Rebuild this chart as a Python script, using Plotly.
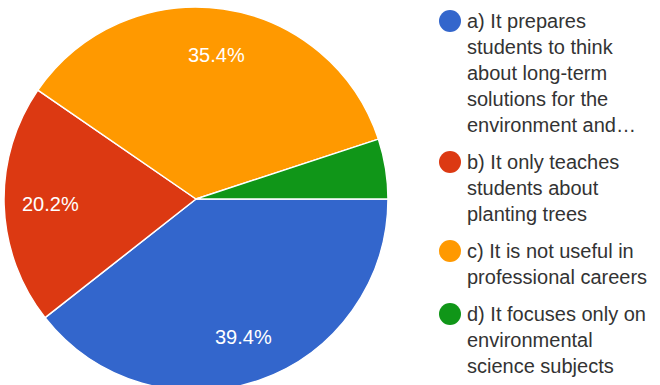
import math
import plotly.graph_objects as go

# Survey answers and response counts
options = [
    "a) It prepares students to think about long-term solutions for the environment and…",
    "b) It only teaches students about planting trees",
    "c) It is not useful in professional careers",
    "d) It focuses only on environmental science subjects",
]
counts = [39, 20, 35, 5]
colors = ["#3366cc", "#dc3912", "#ff9900", "#109618"]

# Wrapped legend lines for each option
legend_lines = [
    ["a) It prepares", "students to think", "about long-term", "solutions for the", "environment and…"],
    ["b) It only teaches", "students about", "planting trees"],
    ["c) It is not useful in", "professional careers"],
    ["d) It focuses only on", "environmental", "science subjects"],
]

W, H = 660, 392
FONT = "Arial, Liberation Sans, sans-serif"

cx, cy, r = 196, 199, 192  # pie centre and radius in pixels
start_deg = 90             # first slice starts at 3 o'clock, going clockwise

fig = go.Figure(
    go.Pie(
        labels=options,
        values=counts,
        sort=False,
        direction="clockwise",
        rotation=start_deg,
        marker=dict(colors=colors, line=dict(color="white", width=1.5)),
        textinfo="none",
        showlegend=False,
        hoverinfo="label+percent",
        domain=dict(x=[(cx - r) / W, (cx + r) / W], y=[(H - cy - r) / H, (H - cy + r) / H]),
    )
)

annotations, shapes = [], []

# Percentage labels placed along each slice's bisector; tiny slices stay unlabelled
total = sum(counts)
acc = 0
for c in counts:
    frac = c / total
    mid = math.radians(start_deg + 360 * (acc + frac / 2))
    acc += frac
    if frac < 0.06:
        continue
    px = cx + 0.76 * r * math.sin(mid)
    py = cy - 0.76 * r * math.cos(mid)
    annotations.append(dict(
        text=f"{frac * 100:.1f}%", xref="paper", yref="paper",
        x=px / W, y=(H - py) / H, xanchor="center", yanchor="middle",
        showarrow=False, font=dict(family=FONT, size=20, color="white"),
    ))

# Custom legend: circle markers with wrapped labels
line_h, item_gap = 26, 37
y = 21
for col, lines in zip(colors, legend_lines):
    mr = 11
    shapes.append(dict(
        type="circle", xref="paper", yref="paper",
        x0=(450 - mr) / W, x1=(450 + mr) / W,
        y0=(H - y - mr) / H, y1=(H - y + mr) / H,
        fillcolor=col, line=dict(width=0),
    ))
    for i, txt in enumerate(lines):
        ly = y + i * line_h
        annotations.append(dict(
            text=txt, xref="paper", yref="paper",
            x=465 / W, y=(H - ly) / H, xanchor="left", yanchor="middle",
            showarrow=False, font=dict(family=FONT, size=20, color="#333333"),
        ))
    y += (len(lines) - 1) * line_h + item_gap

fig.update_layout(
    width=W, height=H,
    margin=dict(l=0, r=0, t=0, b=0),
    paper_bgcolor="white", plot_bgcolor="white",
    shapes=shapes, annotations=annotations,
)

fig.write_html(
    "out.html",
    post_script="document.documentElement.style.overflow='hidden';"
                "document.body.style.overflow='hidden';document.body.style.margin='0';",
)
